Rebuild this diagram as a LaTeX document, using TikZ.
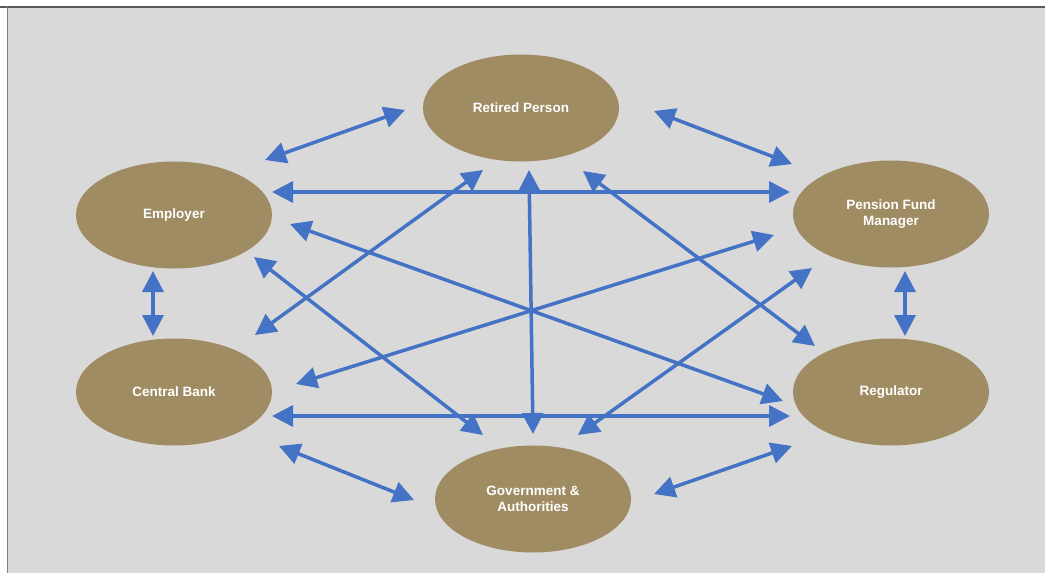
\documentclass[tikz,border=0pt]{standalone}
\usepackage{fontspec}
\setmainfont{Liberation Sans}
\usetikzlibrary{arrows.meta,shapes.geometric}
\definecolor{bgc}{HTML}{D9D9D9}
\definecolor{tanc}{HTML}{A08C62}
\definecolor{arrc}{HTML}{4472C4}
\begin{document}
\begin{tikzpicture}[x=1pt,y=-1pt,
 party/.style={ellipse, fill=tanc, minimum width=196pt, minimum height=107pt, inner sep=0pt, text=white, font=\bfseries\fontsize{13.5}{16}\selectfont, align=center},
 link/.style={draw=arrc, line width=3.5pt, {Triangle[length=21pt,width=21pt]}-{Triangle[length=21pt,width=21pt]}}]
\useasboundingbox (0,0) rectangle (1045,573);
\fill[white] (0,0) rectangle (1045,573);
\fill[bgc] (7,7) rectangle (1045,573);
\draw[black!65, line width=1.5pt] (0,7) -- (1045,7);
\draw[black!50, line width=1pt] (7,7) -- (7,573);

\node[party] (ret) at (521,108) {Retired Person};
\node[party] (emp) at (174,215) {Employer};
\node[party] (pfm) at (891,214) {Pension Fund\\Manager};
\node[party] (cb) at (174,392) {Central Bank};
\node[party] (reg) at (891,392) {Regulator};
\node[party] (gov) at (533,499) {Government \&\\Authorities};

\coordinate (a1s) at (265,160); \coordinate (a1e) at (405,110);
\coordinate (a2s) at (654,111); \coordinate (a2e) at (792,164);
\coordinate (a3s) at (272,192); \coordinate (a3e) at (790,192);
\coordinate (a4s) at (153,271); \coordinate (a4e) at (153,336);
\coordinate (a5s) at (905,271); \coordinate (a5e) at (905,336);
\coordinate (a6s) at (272,416); \coordinate (a6e) at (790,416);
\coordinate (a7s) at (279,446); \coordinate (a7e) at (414,500);
\coordinate (a8s) at (654,494); \coordinate (a8e) at (792,446);
\coordinate (a9s) at (529,170); \coordinate (a9e) at (533,434);
\coordinate (a10s) at (483,170); \coordinate (a10e) at (255,335);
\coordinate (a11s) at (583,171); \coordinate (a11e) at (815,346);
\coordinate (a12s) at (290,224); \coordinate (a12e) at (783,401);
\coordinate (a13s) at (254,257); \coordinate (a13e) at (483,435);
\coordinate (a14s) at (774,235); \coordinate (a14e) at (296,384);
\coordinate (a15s) at (812,268); \coordinate (a15e) at (578,435);

\foreach \i in {1,...,15} {\draw[link] (a\i s) -- (a\i e);}
\end{tikzpicture}
\end{document}
